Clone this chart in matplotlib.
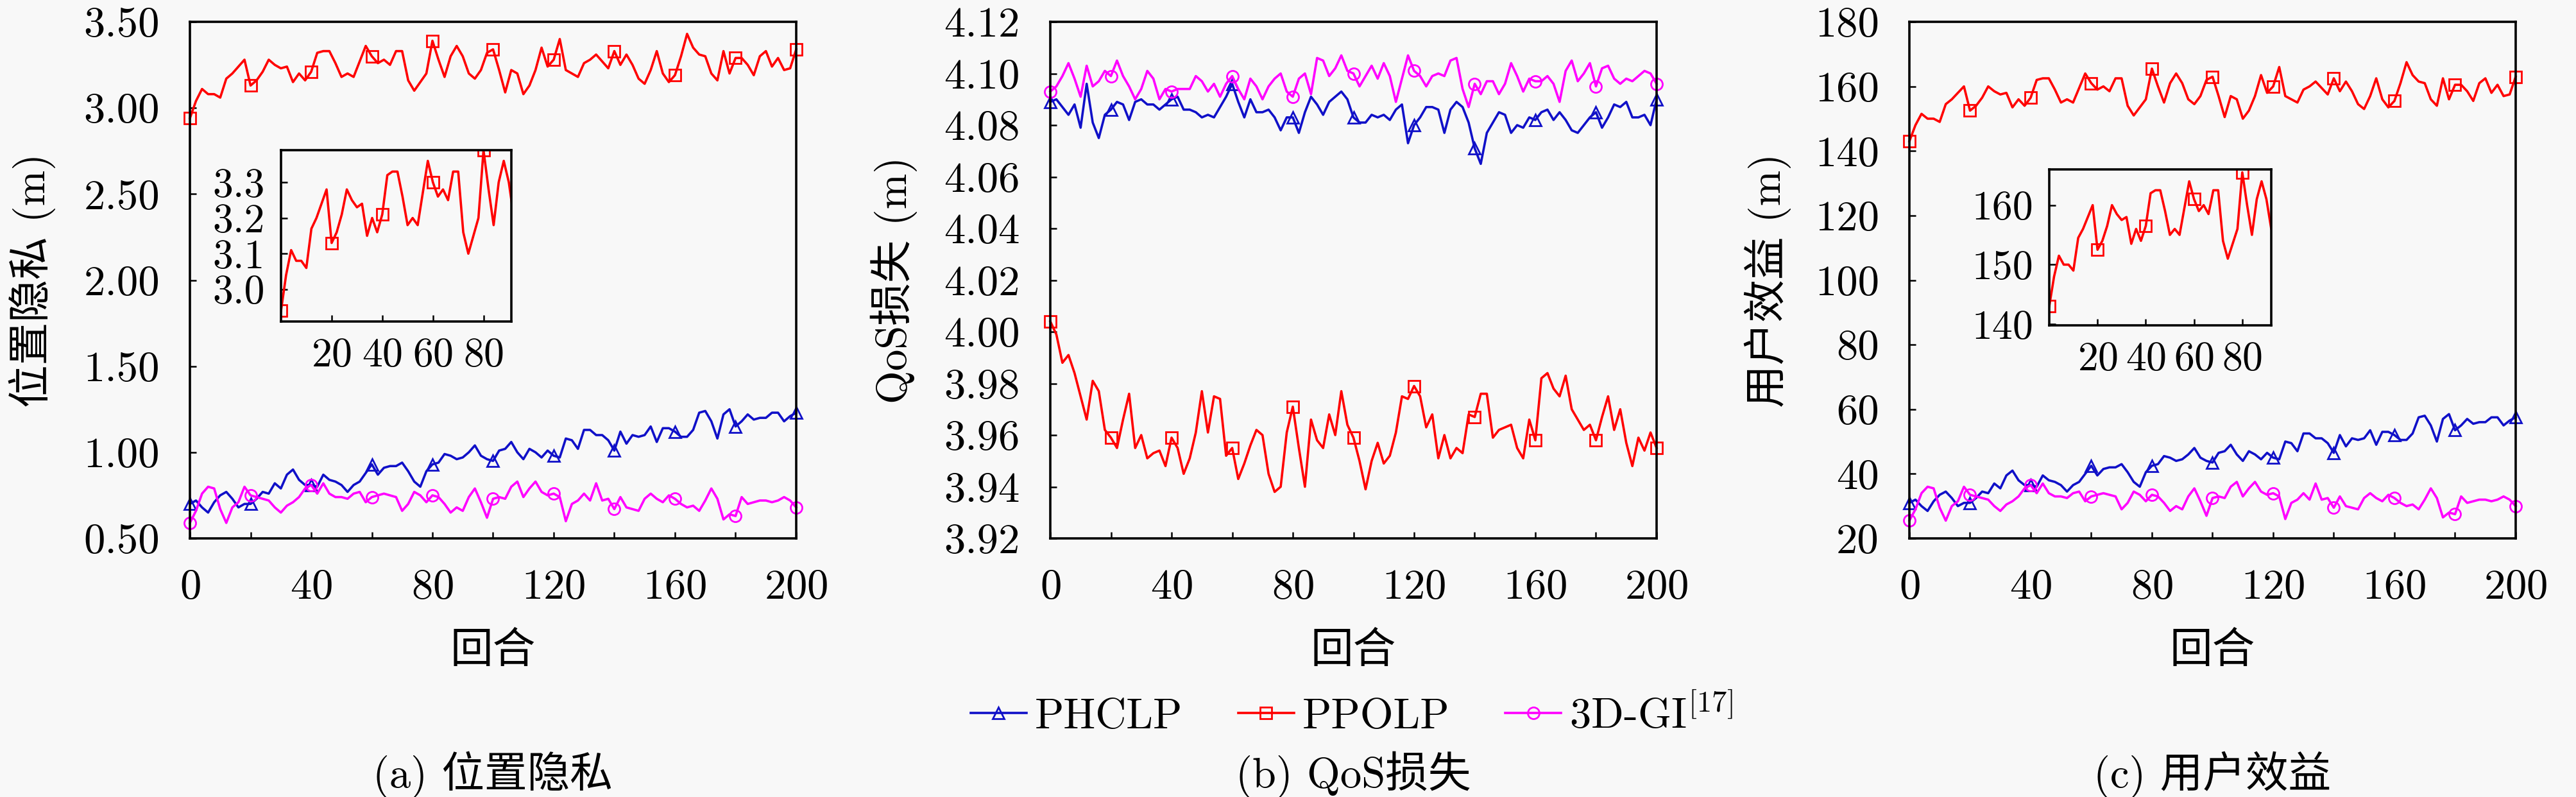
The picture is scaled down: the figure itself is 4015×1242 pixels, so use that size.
import numpy as np
import matplotlib
matplotlib.use('Agg')
from matplotlib import pyplot as plt
from matplotlib.ticker import MultipleLocator, FormatStrFormatter

plt.rcParams['font.family'] = ['cmr10', 'Noto Sans CJK SC']
plt.rcParams['mathtext.fontset'] = 'cm'
plt.rcParams['axes.unicode_minus'] = False
plt.rcParams['axes.formatter.use_mathtext'] = True

# Episodes (every 2nd episode)
episodes = np.arange(0, 201, 2)

labels = ['PHCLP', 'PPOLP', '3D-GI$^{[17]}$']
colors = ['#1010C8', '#FF0000', '#FF00FF']
markers = ['^', 's', 'o']

# (a) location privacy
a_phclp = [0.70, 0.72, 0.68, 0.65, 0.71, 0.75, 0.77, 0.73, 0.68, 0.70,
           0.70, 0.73, 0.77, 0.76, 0.82, 0.79, 0.87, 0.90, 0.84, 0.81,
           0.81, 0.80, 0.87, 0.84, 0.83, 0.81, 0.77, 0.81, 0.83, 0.88,
           0.93, 0.87, 0.91, 0.92, 0.92, 0.94, 0.89, 0.83, 0.80, 0.89,
           0.93, 0.94, 0.99, 0.98, 0.96, 0.97, 1.00, 1.04, 0.98, 0.96,
           0.95, 1.01, 1.02, 1.06, 1.00, 0.96, 1.02, 1.00, 0.97, 1.01,
           0.98, 0.97, 1.08, 1.07, 1.02, 1.13, 1.13, 1.10, 1.10, 1.07,
           1.01, 1.12, 1.05, 1.10, 1.09, 1.10, 1.15, 1.06, 1.14, 1.14,
           1.12, 1.09, 1.09, 1.13, 1.23, 1.24, 1.18, 1.08, 1.22, 1.25,
           1.15, 1.18, 1.22, 1.19, 1.20, 1.20, 1.23, 1.23, 1.18, 1.21,
           1.23]
a_ppolp = [2.94, 3.04, 3.11, 3.08, 3.08, 3.06, 3.17, 3.20, 3.24, 3.28,
           3.13, 3.16, 3.21, 3.28, 3.25, 3.23, 3.24, 3.15, 3.20, 3.16,
           3.21, 3.32, 3.33, 3.33, 3.26, 3.18, 3.20, 3.18, 3.27, 3.36,
           3.30, 3.26, 3.28, 3.25, 3.33, 3.33, 3.16, 3.10, 3.15, 3.20,
           3.39, 3.28, 3.18, 3.30, 3.36, 3.30, 3.20, 3.17, 3.22, 3.32,
           3.34, 3.22, 3.09, 3.22, 3.20, 3.08, 3.13, 3.22, 3.35, 3.24,
           3.28, 3.40, 3.22, 3.20, 3.18, 3.26, 3.28, 3.31, 3.27, 3.23,
           3.33, 3.25, 3.31, 3.25, 3.17, 3.14, 3.22, 3.33, 3.20, 3.15,
           3.19, 3.30, 3.43, 3.35, 3.31, 3.30, 3.20, 3.16, 3.33, 3.20,
           3.29, 3.29, 3.25, 3.19, 3.30, 3.33, 3.24, 3.29, 3.22, 3.23,
           3.34]
a_3dgi = [0.59, 0.66, 0.76, 0.80, 0.79, 0.67, 0.59, 0.68, 0.71, 0.80,
          0.75, 0.74, 0.73, 0.72, 0.68, 0.65, 0.69, 0.71, 0.74, 0.79,
          0.81, 0.76, 0.82, 0.76, 0.74, 0.74, 0.73, 0.76, 0.77, 0.71,
          0.74, 0.75, 0.76, 0.75, 0.74, 0.66, 0.70, 0.77, 0.75, 0.71,
          0.75, 0.74, 0.70, 0.65, 0.68, 0.66, 0.74, 0.79, 0.71, 0.62,
          0.73, 0.74, 0.73, 0.80, 0.83, 0.74, 0.79, 0.83, 0.77, 0.75,
          0.76, 0.74, 0.60, 0.70, 0.72, 0.76, 0.72, 0.82, 0.72, 0.73,
          0.67, 0.74, 0.68, 0.67, 0.66, 0.73, 0.76, 0.73, 0.71, 0.75,
          0.73, 0.70, 0.68, 0.69, 0.66, 0.72, 0.79, 0.73, 0.61, 0.64,
          0.63, 0.74, 0.70, 0.71, 0.72, 0.72, 0.71, 0.72, 0.74, 0.72,
          0.68]

# (b) QoS loss
b_phclp = [4.089, 4.090, 4.087, 4.084, 4.088, 4.079, 4.096, 4.081, 4.075, 4.084,
           4.086, 4.089, 4.088, 4.082, 4.089, 4.090, 4.088, 4.088, 4.086, 4.088,
           4.090, 4.091, 4.086, 4.086, 4.085, 4.083, 4.084, 4.083, 4.087, 4.091,
           4.096, 4.089, 4.083, 4.090, 4.085, 4.085, 4.086, 4.083, 4.078, 4.083,
           4.083, 4.077, 4.085, 4.091, 4.088, 4.084, 4.089, 4.091, 4.093, 4.090,
           4.083, 4.081, 4.081, 4.084, 4.083, 4.084, 4.082, 4.086, 4.088, 4.073,
           4.080, 4.083, 4.087, 4.087, 4.086, 4.077, 4.086, 4.089, 4.087, 4.081,
           4.071, 4.065, 4.077, 4.081, 4.085, 4.084, 4.077, 4.080, 4.079, 4.083,
           4.082, 4.085, 4.086, 4.082, 4.085, 4.082, 4.078, 4.077, 4.080, 4.083,
           4.085, 4.079, 4.083, 4.088, 4.087, 4.089, 4.083, 4.083, 4.084, 4.080,
           4.090]
b_ppolp = [4.004, 3.999, 3.988, 3.991, 3.984, 3.975, 3.966, 3.981, 3.977, 3.962,
           3.959, 3.955, 3.966, 3.976, 3.955, 3.960, 3.951, 3.953, 3.954, 3.948,
           3.959, 3.955, 3.945, 3.951, 3.961, 3.977, 3.961, 3.975, 3.974, 3.952,
           3.955, 3.943, 3.949, 3.956, 3.962, 3.960, 3.945, 3.938, 3.940, 3.961,
           3.971, 3.955, 3.940, 3.966, 3.958, 3.955, 3.968, 3.960, 3.977, 3.964,
           3.959, 3.950, 3.939, 3.950, 3.957, 3.949, 3.952, 3.961, 3.975, 3.974,
           3.979, 3.975, 3.963, 3.968, 3.951, 3.960, 3.951, 3.955, 3.953, 3.968,
           3.967, 3.976, 3.976, 3.959, 3.962, 3.963, 3.964, 3.955, 3.951, 3.966,
           3.958, 3.982, 3.984, 3.978, 3.975, 3.983, 3.970, 3.966, 3.962, 3.964,
           3.958, 3.967, 3.975, 3.962, 3.970, 3.957, 3.948, 3.959, 3.954, 3.961,
           3.955]
b_3dgi = [4.093, 4.095, 4.099, 4.104, 4.098, 4.091, 4.103, 4.095, 4.097, 4.101,
          4.099, 4.105, 4.099, 4.095, 4.090, 4.094, 4.101, 4.098, 4.090, 4.094,
          4.093, 4.094, 4.094, 4.094, 4.099, 4.097, 4.093, 4.096, 4.091, 4.096,
          4.099, 4.094, 4.090, 4.098, 4.095, 4.090, 4.095, 4.098, 4.100, 4.093,
          4.091, 4.098, 4.100, 4.092, 4.106, 4.105, 4.099, 4.102, 4.107, 4.101,
          4.100, 4.095, 4.099, 4.103, 4.098, 4.104, 4.099, 4.089, 4.098, 4.107,
          4.101, 4.099, 4.095, 4.099, 4.100, 4.099, 4.105, 4.106, 4.094, 4.087,
          4.096, 4.092, 4.097, 4.097, 4.092, 4.096, 4.104, 4.099, 4.093, 4.098,
          4.097, 4.097, 4.099, 4.096, 4.089, 4.101, 4.105, 4.097, 4.100, 4.104,
          4.095, 4.102, 4.103, 4.098, 4.096, 4.098, 4.097, 4.099, 4.101, 4.100,
          4.096]

# (c) user benefit
c_phclp = [31, 32, 30, 28.5, 31.5, 33.5, 34.5, 32.5, 30, 31,
           31, 32.5, 34.5, 34, 37, 35.5, 39.5, 41, 38, 36.5,
           36.5, 36, 39.5, 38, 37.5, 36.5, 34.5, 36.5, 37.5, 40,
           42.5, 39.5, 41.5, 42, 42, 43, 40.5, 37.5, 36, 40.5,
           42.5, 43, 45.5, 45, 44, 44.5, 46, 48, 45, 44,
           43.5, 46.5, 47, 49, 46, 44, 47, 46, 44.5, 46.5,
           45, 44.5, 50, 49.5, 47, 52.5, 52.5, 51, 51, 49.5,
           46.5, 52, 48.5, 51, 50.5, 51, 53.5, 49, 53, 53,
           52, 50.5, 50.5, 52.5, 57.5, 58, 55, 50, 57, 58.5,
           53.5, 55, 57, 55.5, 56, 56, 57.5, 57.5, 55, 56.5,
           57.5]
c_ppolp = [143, 148, 151.5, 150, 150, 149, 154.5, 156, 158, 160,
           152.5, 154, 156.5, 160, 158.5, 157.5, 158, 153.5, 156, 154,
           156.5, 162, 162.5, 162.5, 159, 155, 156, 155, 159.5, 164,
           161, 159, 160, 158.5, 162.5, 162.5, 154, 151, 153.5, 156,
           165.5, 160, 155, 161, 164, 161, 156, 154.5, 157, 162,
           163, 157, 150.5, 157, 156, 150, 152.5, 157, 163.5, 158,
           160, 166, 157, 156, 155, 159, 160, 161.5, 159.5, 157.5,
           162.5, 158.5, 161.5, 158.5, 154.5, 153, 157, 162.5, 156, 153.5,
           155.5, 161, 167.5, 163.5, 161.5, 161, 156, 154, 162.5, 156,
           160.5, 160.5, 158.5, 155.5, 161, 162.5, 158, 160.5, 157, 157.5,
           163]
c_3dgi = [25.5, 29, 34, 36, 35.5, 29.5, 25.5, 30, 31.5, 36,
          33.5, 33, 32.5, 32, 30, 28.5, 30.5, 31.5, 33, 35.5,
          36.5, 34, 37, 34, 33, 33, 32.5, 34, 34.5, 31.5,
          33, 33.5, 34, 33.5, 33, 29, 31, 34.5, 33.5, 31.5,
          33.5, 33, 31, 28.5, 30, 29, 33, 35.5, 31.5, 27,
          32.5, 33, 32.5, 36, 37.5, 33, 35.5, 37.5, 34.5, 33.5,
          34, 33, 26, 31, 32, 34, 32, 37, 32, 32.5,
          29.5, 33, 30, 29.5, 29, 32.5, 34, 32.5, 31.5, 33.5,
          32.5, 31, 30, 30.5, 29, 32, 35.5, 32.5, 26.5, 28,
          27.5, 33, 31, 31.5, 32, 32, 31.5, 32, 33, 32,
          30]

W, H = 4016, 1242
bg = '#F8F8F8'
fs = 48

fig = plt.figure(figsize=(W / 100, H / 100), dpi=100, facecolor=bg)


def px_box(left, top, right, bottom):
    return [left / W, 1 - bottom / H, (right - left) / W, (bottom - top) / H]


def style_axes(ax, pad, size):
    ax.set_facecolor(bg)
    for sp in ax.spines.values():
        sp.set_linewidth(2.6)
    ax.tick_params(which='both', direction='in', top=False, right=False,
                   length=7, width=1.8, pad=pad, labelsize=size)


def draw_lines(ax, series, clip=True):
    handles = []
    for vals, col, mk, lab in zip(series, colors, markers, labels):
        if vals is None:
            continue
        h, = ax.plot(episodes, vals, color=col, lw=2.6, marker=mk, ms=13,
                     mfc='none', mew=2.0, markevery=10, label=lab, clip_on=clip)
        handles.append(h)
    return handles


panels = [
    dict(series=[a_phclp, a_ppolp, a_3dgi], left=296, ylim=(0.5, 3.5), ystep=0.5,
         fmt='%.2f', ylabel='位置隐私 (m)', ylx=-0.260, cap='(a) 位置隐私'),
    dict(series=[b_phclp, b_ppolp, b_3dgi], left=1637, ylim=(3.92, 4.12), ystep=0.02,
         fmt='%.2f', ylabel='QoS损失 (m)', ylx=-0.258, cap='(b) QoS损失'),
    dict(series=[c_phclp, c_ppolp, c_3dgi], left=2976, ylim=(20, 180), ystep=20,
         fmt='%d', ylabel='用户效益 (m)', ylx=-0.234, cap='(c) 用户效益'),
]

handles = None
for p in panels:
    ax = fig.add_axes(px_box(p['left'], 34, p['left'] + 945, 839))
    style_axes(ax, 34, fs)
    hs = draw_lines(ax, p['series'], clip=False)
    if handles is None:
        handles = hs
    ax.set_xlim(0, 200)
    ax.set_ylim(*p['ylim'])
    ax.xaxis.set_major_locator(MultipleLocator(40))
    ax.xaxis.set_minor_locator(MultipleLocator(20))
    ax.yaxis.set_major_locator(MultipleLocator(p['ystep']))
    ax.yaxis.set_major_formatter(FormatStrFormatter(p['fmt']))
    ax.set_xlabel('回合', fontsize=fs, va='center')
    ax.xaxis.set_label_coords(0.5, -0.219)
    ax.set_ylabel(p['ylabel'], fontsize=fs, va='center')
    ax.yaxis.set_label_coords(p['ylx'], 0.5)
    fig.text((p['left'] + 472) / W, 1 - 1207 / H, p['cap'], fontsize=fs,
             ha='center', va='center')

# insets (PPOLP only)
insets = [
    dict(box=(438, 234, 797, 501), vals=a_ppolp, xlim=(0, 91), ylim=(2.91, 3.39),
         yticks=[3.0, 3.1, 3.2, 3.3], fmt='%.1f'),
    dict(box=(3194, 264, 3540, 507), vals=c_ppolp, xlim=(0, 92), ylim=(139.8, 166),
         yticks=[140, 150, 160], fmt='%d'),
]
for ins in insets:
    ax = fig.add_axes(px_box(*ins['box']))
    style_axes(ax, 18, 46)
    draw_lines(ax, [None, ins['vals'], None])
    ax.set_xlim(*ins['xlim'])
    ax.set_ylim(*ins['ylim'])
    ax.set_xticks([20, 40, 60, 80])
    ax.set_yticks(ins['yticks'])
    ax.yaxis.set_major_formatter(FormatStrFormatter(ins['fmt']))

fig.legend(handles=handles, loc='center', bbox_to_anchor=(2107 / W, 1 - 1115 / H),
           ncol=3, frameon=False, fontsize=fs, handlelength=1.3,
           handletextpad=0.2, columnspacing=1.3)

fig.savefig('out.png', dpi=100, facecolor=bg)
